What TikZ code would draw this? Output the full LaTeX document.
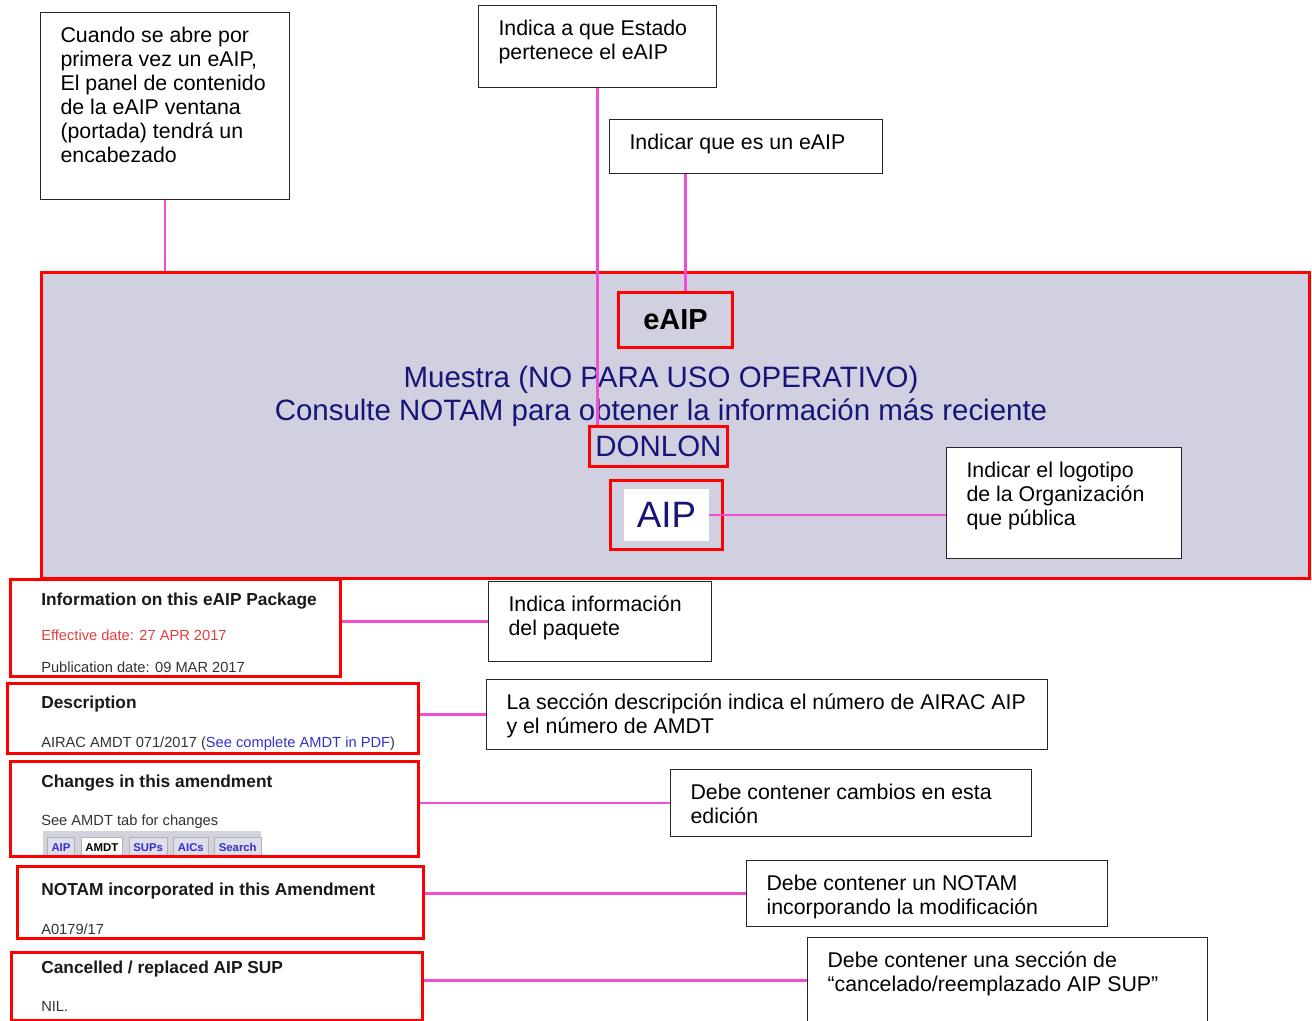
\documentclass[tikz,border=0pt]{standalone}
\usepackage{fontspec}
\setmainfont{Liberation Sans}
\usetikzlibrary{positioning}
\definecolor{lila}{RGB}{208,208,225}
\definecolor{marino}{RGB}{22,22,120}
\definecolor{rosa}{RGB}{242,78,212}
\definecolor{rojo}{RGB}{255,0,0}
\definecolor{gristexto}{RGB}{50,50,50}
\definecolor{rojofecha}{RGB}{226,62,62}
\definecolor{azulenlace}{RGB}{50,50,200}
\definecolor{gristab}{RGB}{210,210,220}
\newdimen\pxu \pxu=0.75pt
\newcommand{\fuentenota}{\fontsize{16}{18}\selectfont}
\newcommand{\nota}[3]{\parbox[t][#2\pxu][t]{#1\pxu}{\raggedright\leftskip=15pt\rule{0pt}{22.5pt}#3}}
\tikzset{
	aviso/.style={
		draw=black!85, line width=0.8pt,
		fill=white,
		inner sep=0pt,
		anchor=north west,
		font=\fuentenota},
	marco/.style={draw=rojo, line width=2.2pt, inner sep=0pt, anchor=north west},
	tam/.style 2 args={minimum width=#1*0.75pt, minimum height=#2*0.75pt},
	enlace/.style={draw=rosa, line width=1.8pt},
	titulo/.style={anchor=base west, inner sep=0pt, text=black!90,
		font=\fontsize{13}{15}\selectfont\bfseries},
	dato/.style={anchor=base west, inner sep=0pt, text=gristexto,
		font=\fontsize{11}{13}\selectfont},
	pestana/.style={
		draw=gray!60, fill=lila!70,
		text=azulenlace,
		font=\fontsize{8.5}{10}\selectfont\bfseries,
		inner xsep=3.2pt, inner ysep=0pt,
		minimum height=15pt,
		anchor=north west},
	banner/.style={text=marino, font=\fontsize{22.1}{24.75}\selectfont},
}

\begin{document}
\begin{tikzpicture}[x=0.75pt, y=-0.75pt]
	\useasboundingbox (0,0) rectangle (1312,1020);
	% portada del eAIP
	\node[marco, tam={1268}{306}, fill=lila] (panel) at (40,271) {};
	\node[marco, tam={114}{55}, font=\fontsize{21.7}{24}\selectfont\bfseries] (eaip) at (617,291) {eAIP};
	\node[banner, align=center] (muestra) at (661,396) {Muestra (NO PARA USO OPERATIVO)\\Consulte NOTAM para obtener la información más reciente};
	\node[marco, tam={138}{40}, banner] (donlon) at (588,425) {DONLON};
	\node[marco, tam={112}{69}] (aipmarco) at (609,479) {};
	\node[fill=white, text=marino, tam={85}{52}, inner sep=0pt,
		font=\fontsize{27.5}{30}\selectfont] (aiplogo) at (aipmarco.center) {AIP};

	% notas
	\node[aviso] (cuando) at (40,12) {\nota{249}{187}{Cuando se abre por\\primera vez un eAIP,\\El panel de contenido\\de la eAIP ventana\\(portada) tendrá un\\encabezado}};
	\node[aviso] (estado) at (478,5) {\nota{238}{82}{Indica a que Estado\\pertenece el eAIP}};
	\node[aviso] (tipo) at (609,119) {\nota{273}{54}{Indicar que es un eAIP}};
	\node[aviso] (logotipo) at (946,447) {\nota{235}{111}{Indicar el logotipo\\de la Organización\\que pública}};
	\node[aviso] (paquete) at (488,581) {\nota{223}{80}{Indica información\\del paquete}};
	\node[aviso] (descripcion) at (486,679) {\nota{561}{70}{La sección descripción indica el número de AIRAC AIP\\y el número de AMDT}};
	\node[aviso] (cambios) at (670,769) {\nota{361}{67}{Debe contener cambios en esta\\edición}};
	\node[aviso] (notam) at (746,860) {\nota{361}{66}{Debe contener un NOTAM\\incorporando la modificación}};
	\node[aviso] (cancelado) at (807,937) {\nota{400}{86}{Debe contener una sección de\\“cancelado/reemplazado AIP SUP”}};

	% secciones
	\node[titulo] (tinfo) at (41,605) {Information on this eAIP Package};
	\node[dato, text=rojofecha] (efectiva) at (41,640) {Effective date: 27 APR 2017};
	\node[dato] (publicacion) at (41,672) {Publication date: 09 MAR 2017};
	\node[marco, tam={330}{97}] (s1) at (9,578) {};

	\node[titulo] (tdesc) at (41,708) {Description};
	\node[dato] (airac) at (41,747) {AIRAC AMDT 071/2017 (\textcolor{azulenlace}{\underline{See complete AMDT in PDF}})};
	\node[marco, tam={411}{70}] (s2) at (6,682) {};

	\node[titulo] (tcambios) at (41,787) {Changes in this amendment};
	\node[dato] (vertab) at (41,825) {See AMDT tab for changes};
	\node[fill=gristab, inner sep=0pt, tam={218}{25}, anchor=north west] (barra) at (43,831) {};
	\node[pestana] (tabaip) at (47,837) {AIP};
	\node[pestana, right=4.5pt of tabaip, fill=white, text=black] (tabamdt) {AMDT};
	\node[pestana, right=4.5pt of tabamdt] (tabsups) {SUPs};
	\node[pestana, right=4.5pt of tabsups] (tabaics) {AICs};
	\node[pestana, right=4.5pt of tabaics] (tabsearch) {Search};
	\node[marco, tam={408}{95}] (s3) at (9,760) {};

	\node[titulo] (tnotam) at (41,895) {NOTAM incorporated in this Amendment};
	\node[dato] (a0179) at (41,934) {A0179/17};
	\node[marco, tam={406}{72}] (s4) at (16,865) {};

	\node[titulo] (tcancel) at (41,973) {Cancelled / replaced AIP SUP};
	\node[dato] (nil) at (41,1011) {NIL.};
	\node[marco, tam={411}{68}] (s5) at (10,951) {};

	% lineas
	\draw[enlace] (cuando.south) -- (cuando.south |- panel.north);
	\draw[enlace] (estado.south) -- (estado.south |- donlon.north);
	\draw[enlace] ([xshift=7.5pt]eaip.north) -- ([xshift=7.5pt]eaip.north |- tipo.south);
	\draw[enlace] (aiplogo.east) -- (aiplogo.east -| logotipo.west);
	\draw[enlace] (s1.east |- paquete.west) -- (paquete.west);
	\draw[enlace] (s2.east |- descripcion.west) -- (descripcion.west);
	\draw[enlace] (s3.east |- cambios.west) -- (cambios.west);
	\draw[enlace] (s4.east |- notam.west) -- (notam.west);
	\draw[enlace] (s5.east |- cancelado.west) -- (cancelado.west);
\end{tikzpicture}
\end{document}
